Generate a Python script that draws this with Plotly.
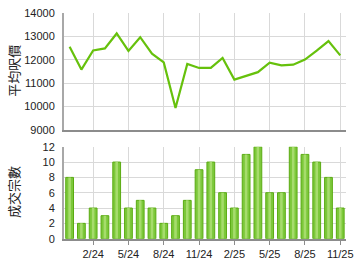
import plotly.graph_objects as go
from plotly.subplots import make_subplots

months = ["12/23", "1/24", "2/24", "3/24", "4/24", "5/24", "6/24", "7/24", "8/24", "9/24",
          "10/24", "11/24", "12/24", "1/25", "2/25", "3/25", "4/25", "5/25", "6/25", "7/25",
          "8/25", "9/25", "10/25", "11/25"]
avg_price = [12560, 11580, 12400, 12490, 13130, 12380, 12970, 12260, 11890, 9930,
             11820, 11650, 11650, 12080, 11150, 11300, 11470, 11880, 11760, 11790,
             12010, 12390, 12800, 12190]
deals = [8, 2, 4, 3, 10, 4, 5, 4, 2, 3, 5, 9, 10, 6, 4, 11, 12, 6, 6, 12, 11, 10, 8, 4]
tick_months = ["2/24", "5/24", "8/24", "11/24", "2/25", "5/25", "8/25", "11/25"]

fig = make_subplots(rows=2, cols=1)

fig.add_trace(go.Scatter(x=months, y=avg_price, mode="lines",
                         line=dict(color="#66c10c", width=2.2), hoverinfo="skip"),
              row=1, col=1)
fig.add_trace(go.Bar(x=months, y=deals, width=0.66,
                     marker=dict(color="#7cc83a", line=dict(color="#5aab12", width=1))),
              row=2, col=1)
fig.add_trace(go.Bar(x=months, y=deals, width=0.22,
                     marker=dict(color="#a6dc6c", line=dict(width=0))),
              row=2, col=1)

font = dict(family="Liberation Sans, Arial", size=11, color="#222")
xcommon = dict(type="category", range=[-0.5, 23.5], tickvals=tick_months, ticktext=tick_months,
               showgrid=True, gridcolor="#d9d9d9", gridwidth=1, showline=True,
               linecolor="#8c8c8c", linewidth=2, zeroline=False, tickfont=font,
               domain=[65/360, 353/360], categoryorder="array", categoryarray=months)
ycommon = dict(showgrid=True, gridcolor="#d9d9d9", gridwidth=1, showline=True,
               linecolor="#a8a8a8", linewidth=1.5, zeroline=False, tickfont=font,
               ticks="", ticklabelstandoff=5, tickformat="d")

fig.update_layout(
    width=360, height=270, margin=dict(l=0, r=0, t=0, b=0),
    paper_bgcolor="white", plot_bgcolor="white", showlegend=False,
    barmode="overlay",
    xaxis=dict(xcommon, showticklabels=False, ticks=""),
    xaxis2=dict(xcommon, ticks="outside", ticklen=4, tickcolor="#8c8c8c"),
    yaxis=dict(ycommon, range=[9000, 14000], dtick=1000, domain=[1-129.5/270, 1-7.5/270]),
    yaxis2=dict(ycommon, range=[0, 12], dtick=2, domain=[1-243.5/270, 1-147.3/270]),
    font=font,
)

fig.add_annotation(text="平均呎價", x=14/360, y=1-68/270, xref="paper", yref="paper",
                   xanchor="center", yanchor="middle",
                   textangle=-90, showarrow=False,
                   font=dict(family="Noto Sans CJK TC", size=13, color="#222"))
fig.add_annotation(text="成交宗數", x=14/360, y=1-195/270, xref="paper", yref="paper",
                   xanchor="center", yanchor="middle",
                   textangle=-90, showarrow=False,
                   font=dict(family="Noto Sans CJK TC", size=13, color="#222"))

fig.write_html("out.html")
